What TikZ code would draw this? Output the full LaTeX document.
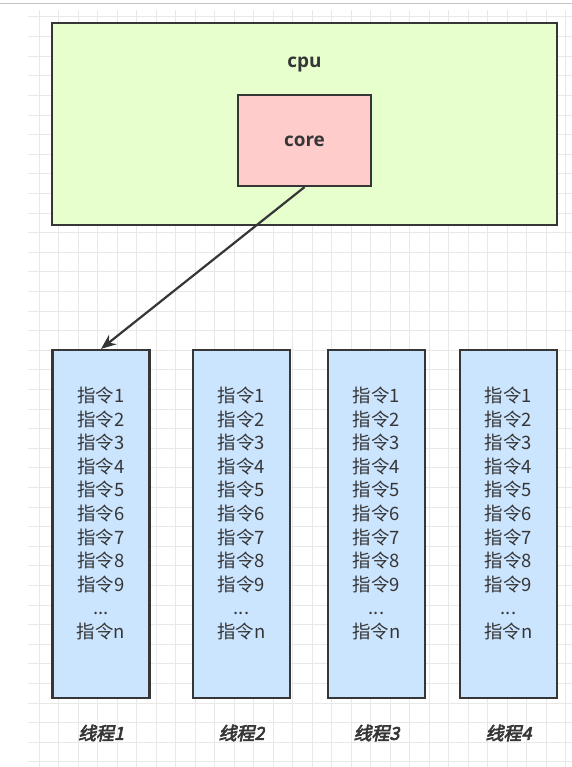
\documentclass[tikz,border=0pt]{standalone}
\usepackage{fontspec}
\usetikzlibrary{arrows.meta}
\newfontfamily\cjk{Noto Sans CJK SC}
\newfontfamily\cjkbi{Noto Sans CJK SC}[FakeBold=3.5,FakeSlant=0.22]
\newfontfamily\osans{Open Sans}
\definecolor{cpufill}{HTML}{E6FFCC}
\definecolor{corefill}{HTML}{FFCCCC}
\definecolor{thfill}{HTML}{CCE5FF}
\definecolor{edgec}{HTML}{363636}
\definecolor{gridc}{HTML}{E8E8E8}
\definecolor{topline}{HTML}{C4C4C4}
\newcommand\instrlist{指令1\\指令2\\指令3\\指令4\\指令5\\指令6\\指令7\\指令8\\指令9\\...\\指令n}
\begin{document}
\begin{tikzpicture}[x=1bp,y=-1bp,
  box/.style={draw=edgec,line width=2.2bp,inner sep=0pt},
  thbox/.style={box,fill=thfill,minimum width=97bp,minimum height=348bp},
  instr/.style={align=center,text=edgec,font=\cjk\fontsize{18.5}{23.6}\selectfont,inner sep=0pt},
  thlabel/.style={text=edgec,font=\cjkbi\fontsize{18}{20}\selectfont,inner sep=0pt},
  title/.style={text=edgec,font=\osans\bfseries\fontsize{19}{22}\selectfont,inner sep=0pt}]
\useasboundingbox (0,0) rectangle (572,767);
\fill[white] (0,0) rectangle (572,767);
% grid
\foreach \i in {0,...,27} \draw[gridc,line width=1bp] ({39+19.5*\i},10) -- ({39+19.5*\i},767);
\foreach \j in {0,...,38} \draw[gridc,line width=1bp] (28,{17+19.6*\j}) -- (572,{17+19.6*\j});
\draw[topline,line width=1bp] (0,4) -- (572,4);
% cpu
\node[box,fill=cpufill,minimum width=505bp,minimum height=202bp] (cpu) at (304.5,124) {};
\node[title] (cpulabel) at (304.5,65) {cpu};
\node[box,fill=corefill,minimum width=133bp,minimum height=91bp] (core) at (304.5,140.5) {};
\node[title] (corelabel) at (304.5,141) {core};
% threads
\node[thbox] (t1) at (101,524) {};
\node[thbox] (t2) at (241.5,524) {};
\node[thbox] (t3) at (376.5,524) {};
\node[thbox] (t4) at (508.5,524) {};
\node[instr] (i1) at (101,513.5) {\instrlist};
\node[instr] (i2) at (241.5,513.5) {\instrlist};
\node[instr] (i3) at (376.5,513.5) {\instrlist};
\node[instr] (i4) at (508.5,513.5) {\instrlist};
\node[thlabel] (l1) at (101,733) {线程1};
\node[thlabel] (l2) at (241.5,733) {线程2};
\node[thlabel] (l3) at (376.5,733) {线程3};
\node[thlabel] (l4) at (508.5,733) {线程4};
% arrow
\draw[edgec,line width=2.2bp,-{Stealth[length=15bp,width=12bp]}] (core.south) -- (t1.north);
\end{tikzpicture}
\end{document}
